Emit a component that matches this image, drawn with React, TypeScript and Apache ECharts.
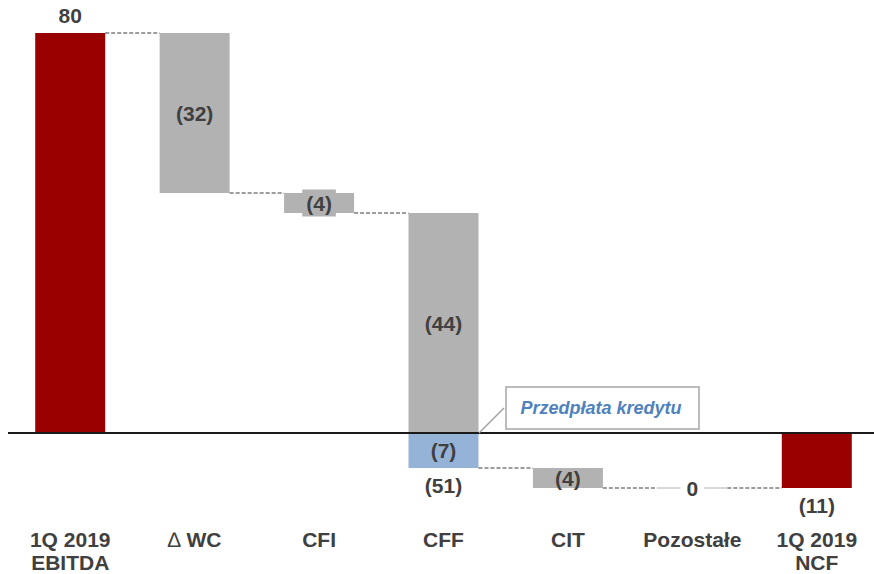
import React, { useEffect, useRef } from "react";
import * as echarts from "echarts";

// Cash-flow bridge 1Q 2019: EBITDA -> net cash flow
const categories = ["1Q 2019\nEBITDA", "∆ WC", "CFI", "CFF", "CIT", "Pozostałe", "1Q 2019\nNCF"];
const ebitda = 80;
const ncf = -11;
// changes between the two totals (null where the column is a total)
const changes: (number | null)[] = [null, -32, -4, -44, -4, 0, null];
// loan prepayment, shown as a separate part of the CFF column
const prepayment: (number | null)[] = [null, null, null, -7, null, null, null];
const cffTotal = -51;

const FONT = '"Liberation Sans", Arial, Helvetica, sans-serif';
const TEXT = "#404040";
const RED = "#990000";
const GREY = "#b2b2b2";
const BLUE = "#95b3d7";
const BAR_WIDTH = 70;
const FS = 21;

const fmt = (v: number) => (v < 0 ? `(${-v})` : String(v));

// stacked layout: invisible base + visible segments
const baseVals: (number | null)[] = [];
const greyVals: (number | null)[] = [];
const blueVals: (number | null)[] = [];
const redVals: (number | null)[] = [];
const levels: number[] = [];

let level = ebitda;
categories.forEach((_, i) => {
  baseVals[i] = null;
  greyVals[i] = null;
  blueVals[i] = null;
  redVals[i] = null;
  if (i === 0) {
    redVals[i] = ebitda;
    level = ebitda;
  } else if (i === categories.length - 1) {
    redVals[i] = ncf;
    level = ncf;
  } else {
    const d = changes[i] as number;
    const start = level;
    const end = start + d;
    if (d !== 0) {
      if (start >= 0 && end >= 0) {
        baseVals[i] = Math.min(start, end);
        greyVals[i] = Math.abs(d);
      } else {
        baseVals[i] = Math.max(start, end);
        greyVals[i] = -Math.abs(d);
      }
    }
    level = end;
    const p = prepayment[i];
    if (p != null) {
      blueVals[i] = p;
      level = level + p;
    }
  }
  levels[i] = level;
});

const connectorData = levels.slice(0, -1).map((lv, i) => [i, lv]);
const flatData = changes
  .map((d, i) => (d === 0 ? [i, levels[i], d] : null))
  .filter((x) => x !== null) as number[][];
const totalData = prepayment
  .map((p, i) => (p != null ? [i, levels[i], cffTotal] : null))
  .filter((x) => x !== null) as number[][];

const labelBase = {
  color: TEXT,
  fontSize: FS,
  fontWeight: "bold" as const,
  fontFamily: FONT,
};

export default function App() {
  const ref = useRef<HTMLDivElement>(null);

  useEffect(() => {
    if (!ref.current) return;
    const chart = echarts.init(ref.current, null, { renderer: "svg" });

    const option: any = {
      animation: false,
      backgroundColor: "#ffffff",
      grid: {
        left: 8,
        top: 3,
        width: 871,
        height: 520,
        containLabel: false,
        outerBoundsMode: "none",
      },
      xAxis: {
        type: "category",
        data: categories,
        axisLine: { show: false },
        axisTick: { show: false },
        splitLine: { show: false },
        axisLabel: {
          interval: 0,
          margin: 5,
          color: TEXT,
          fontSize: FS,
          fontWeight: "bold",
          fontFamily: FONT,
          lineHeight: 23,
          formatter: (v: string) => (v.startsWith("∆") ? `{d|∆}${v.slice(1)}` : v),
          rich: {
            d: { fontWeight: "normal", fontSize: FS, fontFamily: FONT, color: TEXT, lineHeight: 23 },
          },
        },
      },
      yAxis: {
        type: "value",
        min: -18,
        max: 86,
        show: false,
        splitLine: { show: false },
      },
      series: [
        {
          name: "base",
          type: "bar",
          stack: "wf",
          barWidth: BAR_WIDTH,
          silent: true,
          itemStyle: { color: "transparent" },
          data: baseVals,
          markLine: {
            silent: true,
            symbol: "none",
            label: { show: false },
            lineStyle: { color: "#1a1a1a", width: 2, type: "solid" },
            data: [{ yAxis: 0 }],
            z: 5,
          },
        },
        {
          name: "zmiana",
          type: "bar",
          stack: "wf",
          barWidth: BAR_WIDTH,
          itemStyle: { color: GREY },
          data: greyVals.map((v, i) =>
            categories[i] === "CFI"
              ? {
                  value: v,
                  label: { backgroundColor: GREY, padding: [3, 4] },
                }
              : v
          ),
          label: {
            show: true,
            position: "inside",
            ...labelBase,
            formatter: (p: any) => fmt(changes[p.dataIndex] as number),
          },
        },
        {
          name: "przedpłata",
          type: "bar",
          stack: "wf",
          barWidth: BAR_WIDTH,
          itemStyle: { color: BLUE },
          data: blueVals,
          label: {
            show: true,
            position: "inside",
            ...labelBase,
            formatter: (p: any) => fmt(p.value),
          },
        },
        {
          name: "suma",
          type: "bar",
          stack: "wf",
          barWidth: BAR_WIDTH,
          itemStyle: { color: RED },
          data: redVals.map((v) =>
            v == null
              ? null
              : {
                  value: v,
                  label: {
                    show: true,
                    position: v >= 0 ? "top" : "bottom",
                    distance: 7,
                    ...labelBase,
                    formatter: (p: any) => fmt(p.value),
                  },
                }
          ),
        },
        {
          name: "łączniki",
          type: "custom",
          z: 4,
          silent: true,
          clip: false,
          data: connectorData,
          renderItem: (params: any, api: any) => {
            const i = api.value(0);
            const lv = api.value(1);
            const [cx, cy] = api.coord([i, lv]);
            const band = api.size([1, 0])[0];
            return {
              type: "line",
              shape: { x1: cx + BAR_WIDTH / 2, y1: cy, x2: cx + band - BAR_WIDTH / 2, y2: cy },
              style: { stroke: "#3a3a3a", lineWidth: 1, lineDash: [4, 2] },
            };
          },
        },
        {
          name: "bez zmian",
          type: "custom",
          z: 4,
          silent: true,
          clip: false,
          data: flatData,
          renderItem: (params: any, api: any) => {
            const i = api.value(0);
            const lv = api.value(1);
            const d = api.value(2);
            const [cx, cy] = api.coord([i, lv]);
            return {
              type: "group",
              children: [
                {
                  type: "line",
                  shape: { x1: cx - BAR_WIDTH / 2, y1: cy, x2: cx + BAR_WIDTH / 2, y2: cy },
                  style: { stroke: GREY, lineWidth: 1 },
                },
                {
                  type: "text",
                  style: {
                    text: fmt(d),
                    x: cx,
                    y: cy,
                    align: "center",
                    verticalAlign: "middle",
                    backgroundColor: "#ffffff",
                    padding: [1, 6],
                    fill: TEXT,
                    fontSize: FS,
                    fontWeight: "bold",
                    fontFamily: FONT,
                  },
                },
              ],
            };
          },
        },
        {
          name: "CFF razem",
          type: "custom",
          z: 4,
          silent: true,
          clip: false,
          data: totalData,
          renderItem: (params: any, api: any) => {
            const i = api.value(0);
            const lv = api.value(1);
            const total = api.value(2);
            const [cx, cy] = api.coord([i, lv]);
            return {
              type: "text",
              style: {
                text: fmt(total),
                x: cx,
                y: cy + 7,
                align: "center",
                verticalAlign: "top",
                fill: TEXT,
                fontSize: FS,
                fontWeight: "bold",
                fontFamily: FONT,
              },
            };
          },
        },
      ],
      graphic: [
        {
          type: "line",
          z: 10,
          silent: true,
          shape: { x1: 504, y1: 408, x2: 479, y2: 433 },
          style: { stroke: "#a0a0a0", lineWidth: 1.5 },
        },
        {
          type: "rect",
          z: 10,
          silent: true,
          shape: { x: 506, y: 387, width: 193, height: 42 },
          style: { fill: "#ffffff", stroke: "#a6a6a6", lineWidth: 1.5 },
        },
        {
          type: "text",
          z: 11,
          silent: true,
          x: 601,
          y: 408,
          style: {
            text: "Przedpłata kredytu",
            textAlign: "center",
            textVerticalAlign: "middle",
            align: "center",
            verticalAlign: "middle",
            fill: "#4f81bd",
            font: `italic bold 18px ${FONT}`,
          },
        },
      ],
    };

    chart.setOption(option);
    return () => chart.dispose();
  }, []);

  return (
    <div
      ref={ref}
      style={{ position: "absolute", left: 0, top: 0, width: 874, height: 574 }}
    />
  );
}
